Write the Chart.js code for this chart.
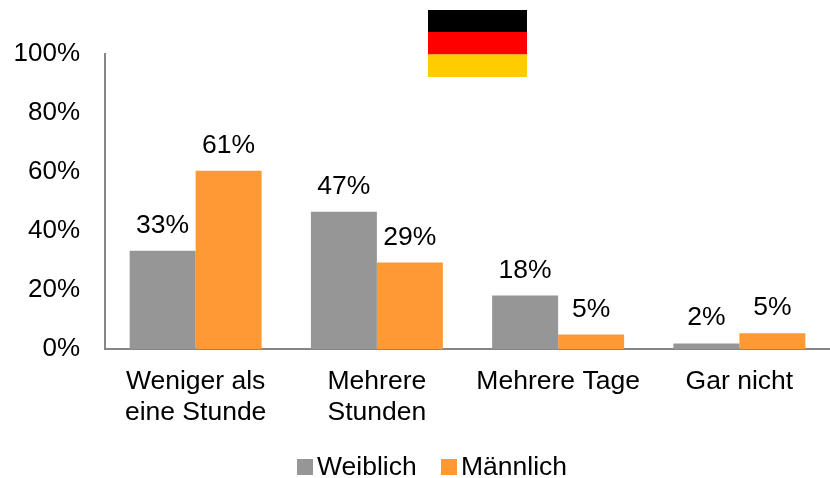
<!DOCTYPE html>
<html><head><meta charset="utf-8">
<script src="https://cdn.jsdelivr.net/npm/chart.js@4"></script>
<style>html,body{margin:0;padding:0;background:#fff;overflow:hidden}#w{position:relative;width:830px;height:478px}</style>
</head><body><div id="w"><canvas id="c" width="830" height="478"></canvas></div>
<script>
const categories = [["Weniger als","eine Stunde"],["Mehrere","Stunden"],"Mehrere Tage","Gar nicht"];
const weiblich = [33.3, 46.5, 18.1, 1.9];
const maennlich = [60.4, 29.3, 4.9, 5.3];
const weiblichLabels = ["33%","47%","18%","2%"];
const maennlichLabels = ["61%","29%","5%","5%"];
const tickValues = [0,20,40,60,80,100];
const FONT = '"Liberation Sans", Arial, sans-serif';
const SIZE = 26.5;
const overlay = {
  id:'overlay',
  afterDraw(chart){
    const ctx = chart.ctx;
    ctx.save();
    // flag
    ctx.fillStyle='#000000'; ctx.fillRect(428,10,99,22);
    ctx.fillStyle='#ff0000'; ctx.fillRect(428,32,99,22.5);
    ctx.fillStyle='#ffcc00'; ctx.fillRect(428,54.5,99,22.5);
    // value labels
    ctx.font = SIZE+'px '+FONT; ctx.fillStyle='#000'; ctx.textAlign='center'; ctx.textBaseline='alphabetic';
    chart.data.datasets.forEach((ds,i)=>{
      chart.getDatasetMeta(i).data.forEach((bar,j)=>{
        ctx.fillText(ds.valueLabels[j], bar.x, bar.y-18);
      });
    });
    // legend
    const pos=[[297,317],[441,461]];
    ctx.textAlign='left';
    chart.data.datasets.forEach((ds,i)=>{
      ctx.fillStyle=ds.backgroundColor; ctx.fillRect(pos[i][0],459,16,16);
      ctx.fillStyle='#000'; ctx.fillText(ds.label,pos[i][1],475);
    });
    ctx.restore();
  }
};
new Chart(document.getElementById('c'),{
  type:'bar',
  data:{labels:categories,datasets:[
    {label:'Weiblich',data:weiblich,valueLabels:weiblichLabels,backgroundColor:'#969696',categoryPercentage:0.728,barPercentage:1},
    {label:'Männlich',data:maennlich,valueLabels:maennlichLabels,backgroundColor:'#ff9933',categoryPercentage:0.728,barPercentage:1}
  ]},
  options:{
    responsive:false,animation:false,
    layout:{padding:{left:0,right:0,top:54,bottom:41}},
    plugins:{legend:{display:false},tooltip:{enabled:false}},
    scales:{
      x:{
        grid:{display:false},
        border:{color:'#868686',width:2},
        ticks:{color:'#000',font:{family:FONT,size:SIZE,lineHeight:1.17},maxRotation:0,autoSkip:false,padding:9}
      },
      y:{
        min:0,max:100,afterFit(s){s.width=105;},
        afterBuildTicks(s){s.ticks=tickValues.map(v=>({value:v}));},
        grid:{display:false},
        border:{color:'#868686',width:2},
        ticks:{color:'#000',font:{family:FONT,size:26},padding:17,callback:v=>v+'%'}
      }
    }
  },
  plugins:[overlay]
});
</script></body></html>
